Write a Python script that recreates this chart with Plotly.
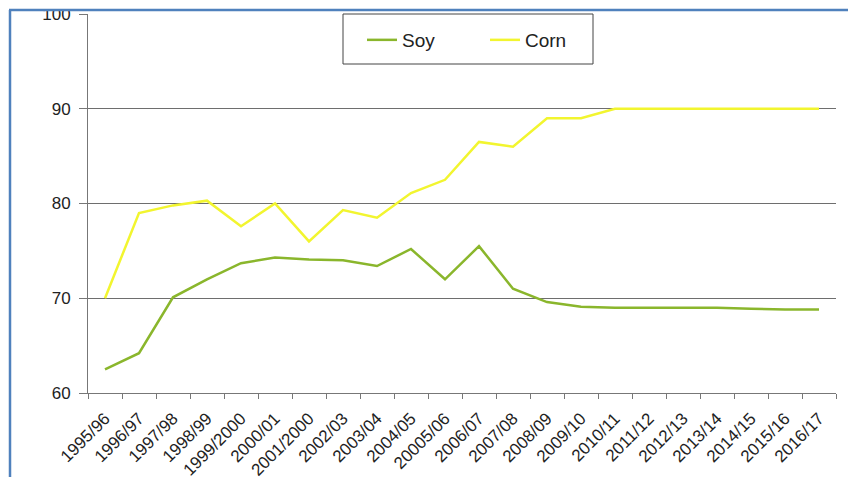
import plotly.graph_objects as go

seasons = ["1995/96", "1996/97", "1997/98", "1998/99", "1999/2000", "2000/01",
           "2001/2000", "2002/03", "2003/04", "2004/05", "20005/06", "2006/07",
           "2007/08", "2008/09", "2009/10", "2010/11", "2011/12", "2012/13",
           "2013/14", "2014/15", "2015/16", "2016/17"]
soy = [62.5, 64.2, 70.1, 72.0, 73.7, 74.3, 74.1, 74.0, 73.4, 75.2, 72.0, 75.5,
       71.0, 69.6, 69.1, 69.0, 69.0, 69.0, 69.0, 68.9, 68.8, 68.8]
corn = [70.0, 79.0, 79.8, 80.3, 77.6, 80.0, 76.0, 79.3, 78.5, 81.1, 82.5, 86.5,
        86.0, 89.0, 89.0, 90.0, 90.0, 90.0, 90.0, 90.0, 90.0, 90.0]
y_ticks = [60, 70, 80, 90, 100]

FONT = "Liberation Sans, Arial, sans-serif"
W, H = 848, 477
L, R, T, B = 88, 12, 14, 84
pw, ph = W - L - R, H - T - B

def px(x):
    return (x - L) / pw

def py(y):
    return (H - B - y) / ph

fig = go.Figure()
fig.add_trace(go.Scatter(x=seasons, y=soy, name="Soy", mode="lines",
                         line=dict(color="#8AB62C", width=2.5)))
fig.add_trace(go.Scatter(x=seasons, y=corn, name="Corn", mode="lines",
                         line=dict(color="#F2F52F", width=2.5)))

shapes = [
    # legend box
    dict(type="rect", xref="paper", yref="paper", x0=px(343), x1=px(593),
         y0=py(64), y1=1, line=dict(color="#444444", width=1),
         fillcolor="white", layer="above"),
    # white strip at very top (crop)
    dict(type="rect", xref="paper", yref="paper", x0=px(0), x1=px(W),
         y0=py(10.5), y1=py(-5), line=dict(width=0), fillcolor="white", layer="above"),
    # blue frame
    dict(type="line", xref="paper", yref="paper", x0=px(9), x1=px(W + 5),
         y0=py(10), y1=py(10), line=dict(color="#4F81BD", width=2.5), layer="above"),
    dict(type="line", xref="paper", yref="paper", x0=px(10), x1=px(10),
         y0=py(10), y1=py(H + 5), line=dict(color="#4F81BD", width=2.5), layer="above"),
]

fig.update_layout(
    width=W, height=H,
    margin=dict(l=L, r=R, t=T, b=B, autoexpand=False),
    paper_bgcolor="white", plot_bgcolor="white",
    font=dict(family=FONT, color="#222222"),
    showlegend=True,
    legend=dict(orientation="h", x=px(362), xanchor="left", y=py(40), yanchor="middle",
                bgcolor="rgba(0,0,0,0)", borderwidth=0,
                font=dict(size=19, family=FONT, color="#222222"),
                entrywidth=78, itemwidth=30),
    shapes=shapes,
    xaxis=dict(type="category", range=[-0.5, len(seasons) - 0.5], automargin=False,
               tickson="boundaries", ticks="outside", ticklen=5, tickcolor="#777777",
               showline=True, linecolor="#777777", linewidth=1,
               showgrid=False, tickangle=-45, ticklabelstandoff=8,
               tickfont=dict(size=17, family=FONT, color="#222222")),
    yaxis=dict(range=[60, 100], tickvals=y_ticks, ticks="outside", ticklen=8,
               automargin=False,
               tickcolor="#777777", showline=True, linecolor="#777777", linewidth=1,
               showgrid=True, gridcolor="#6E6E6E", gridwidth=1, zeroline=False,
               ticklabelstandoff=5,
               tickfont=dict(size=17, family=FONT, color="#222222")),
)

fig.write_html("out.html")
